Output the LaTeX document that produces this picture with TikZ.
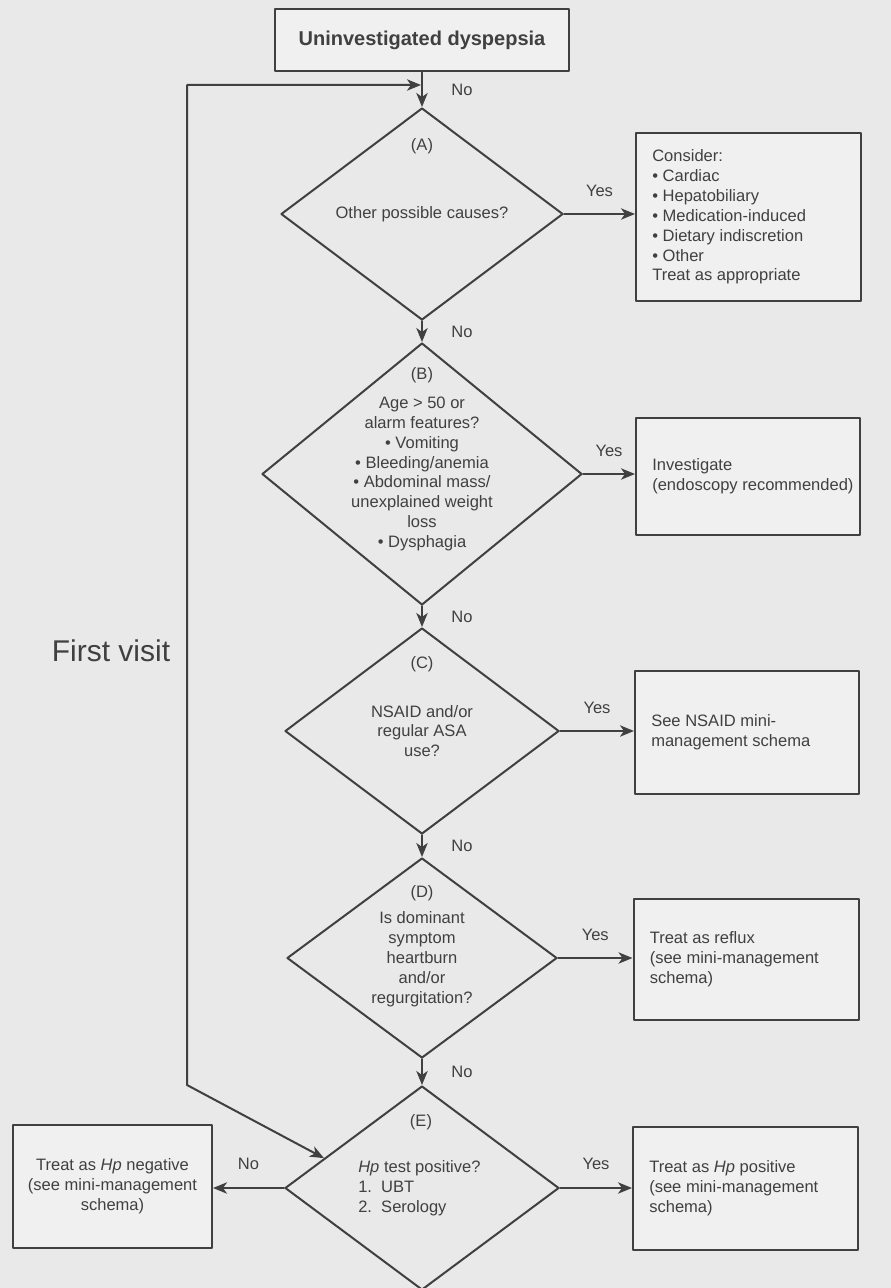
\documentclass[tikz,border=0pt]{standalone}
\usepackage{fontspec}
\setmainfont{Liberation Sans}
\usepackage{tikz}
\usetikzlibrary{arrows.meta,shapes.geometric,calc}
\definecolor{ink}{gray}{0.25}
\definecolor{page}{gray}{0.915}
\definecolor{boxfill}{gray}{0.94}

\begin{document}
\begin{tikzpicture}[line cap=round,line join=round,>={Stealth[length=10.5pt,width=8.5pt,inset=3pt]},x=0.75pt,y=-0.75pt,
  every node/.style={text=ink,font=\fontsize{12.4}{14.9}\selectfont},
  flow/.style={draw=ink,line width=1.5pt},
  box/.style={draw=ink,line width=1.5pt,fill=boxfill,rectangle,inner sep=0pt},
  ask/.style={draw=ink,line width=1.5pt,diamond,inner sep=0pt},
  note/.style={align=left,inner sep=0pt},
  qtext/.style={align=center,inner sep=0pt}]
\fill[page] (0,0) rectangle (891,1288);
\useasboundingbox (0,0) rectangle (891,1288);
% main column
\node[box,font=\bfseries\fontsize{15}{18}\selectfont,minimum width=220.5pt,minimum height=46.5pt] (title) at (422,40.5) {Uninvestigated dyspepsia};
\node[ask,minimum width=211.5pt,minimum height=159pt] (A) at (422,214) {};
\node[ask,minimum width=240pt,minimum height=196.5pt] (B) at (422,474) {};
\node[ask,minimum width=205.5pt,minimum height=154.5pt] (C) at (422,731) {};
\node[ask,minimum width=202.5pt,minimum height=150pt] (D) at (422,958) {};
\node[ask,minimum width=205.5pt,minimum height=153pt] (E) at (422,1188) {};
% questions
\node (Alab) at (422,146) {(A)};
\node[qtext] (Atxt) at (422,214) {Other possible causes?};
\node (Blab) at (422,375) {(B)};
\node[qtext] (Btxt) at (422,474) {Age > 50 or\\alarm features?\\\textbullet\ Vomiting\\\textbullet\ Bleeding/anemia\\\textbullet\ Abdominal mass/\\unexplained weight\\loss\\\textbullet\ Dysphagia};
\node (Clab) at (422,664) {(C)};
\node[qtext] (Ctxt) at (422,731) {NSAID and/or\\regular ASA\\use?};
\node (Dlab) at (422,893) {(D)};
\node[qtext] (Dtxt) at (422,959) {Is dominant\\symptom\\heartburn\\and/or\\regurgitation?};
\node (Elab) at (421,1122) {(E)};
\node[note,anchor=west] (Etxt) at (358,1188) {\textit{Hp} test positive?\\1.\ \ UBT\\2.\ \ Serology};
% outcome boxes
\node[box,minimum width=168.75pt,minimum height=126pt] (consider) at (748.5,217) {};
\node[note,anchor=west] (considertxt) at ([xshift=12.75pt]consider.west) {Consider:\\\textbullet\ Cardiac\\\textbullet\ Hepatobiliary\\\textbullet\ Medication-induced\\\textbullet\ Dietary indiscretion\\\textbullet\ Other\\Treat as appropriate};
\node[box,minimum width=168pt,minimum height=87.75pt] (invest) at (748,476.5) {};
\node[note,anchor=west] (investtxt) at ([xshift=12.75pt]invest.west) {Investigate\\(endoscopy recommended)};
\node[box,minimum width=168pt,minimum height=92.25pt] (nsaid) at (747,732.5) {};
\node[note,anchor=west] (nsaidtxt) at ([xshift=12.75pt]nsaid.west) {See NSAID mini-\\management schema};
\node[box,minimum width=168.75pt,minimum height=90.75pt] (reflux) at (746,959.5) {};
\node[note,anchor=west] (refluxtxt) at ([xshift=12.75pt]reflux.west) {Treat as reflux\\(see mini-management\\schema)};
\node[box,minimum width=168.75pt,minimum height=92.25pt] (hppos) at (745.5,1188.5) {};
\node[note,anchor=west] (hppostxt) at ([xshift=12.75pt]hppos.west) {Treat as \textit{Hp} positive\\(see mini-management\\schema)};
\node[box,minimum width=149.25pt,minimum height=92.25pt] (hpneg) at (112.5,1186.5) {};
\node[qtext] (hpnegtxt) at (hpneg) {Treat as \textit{Hp} negative\\(see mini-management\\schema)};
\node[font=\fontsize{22.5}{27}\selectfont] (visit) at (111,651) {First visit};
% connectors
\draw[flow,->] (title.south) -- node[right=18pt] {No} (A.north);
\draw[flow,->] (A.south) -- node[right=18pt] {No} (B.north);
\draw[flow,->] (B.south) -- node[right=18pt] {No} (C.north);
\draw[flow,->] (C.south) -- node[right=18pt] {No} (D.north);
\draw[flow,->] (D.south) -- node[right=18pt] {No} (E.north);
\draw[flow,->] (A.east) -- node[above=9pt] {Yes} (A.east -| consider.west);
\draw[flow,->] (B.east) -- node[above=9pt] {Yes} (B.east -| invest.west);
\draw[flow,->] (C.east) -- node[above=9pt] {Yes} (C.east -| nsaid.west);
\draw[flow,->] (D.east) -- node[above=9pt] {Yes} (D.east -| reflux.west);
\draw[flow,->] (E.east) -- node[above=10pt] {Yes} (E.east -| hppos.west);
\draw[flow,->] (E.west) -- node[above=10pt] {No} (E.west -| hpneg.east);
% return line
\coordinate (loopin) at (421,85);
\coordinate (looptop) at (187,85);
\coordinate (loopbot) at (187,1085);
\coordinate (eside) at ($(E.west)!0.29!(E.north)$);
\draw[flow,<->] (loopin) -- (looptop) -- (loopbot) -- (eside);
\end{tikzpicture}
\end{document}
